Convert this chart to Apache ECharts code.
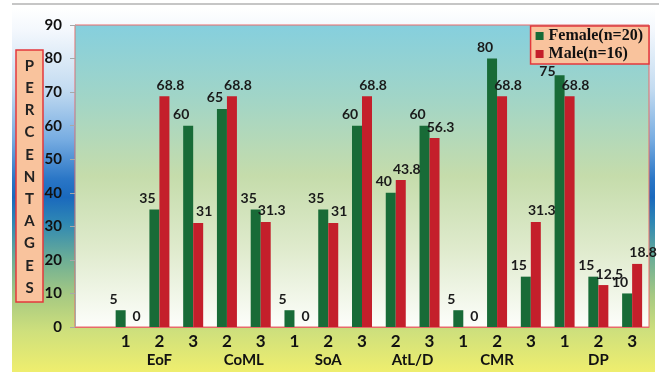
<!DOCTYPE html>
<html>
<head>
<meta charset="utf-8">
<script src="https://cdn.jsdelivr.net/npm/echarts@6/dist/echarts.min.js"></script>
<style>
  html, body { margin: 0; padding: 0; background: #fff; }
  .wrap { position: relative; width: 659px; height: 379px; overflow: hidden; }
  .topline { position: absolute; left: 12px; right: 0; top: 3px; height: 2px; background: #c6c6c6; }
  .frame {
    position: absolute; left: 12px; top: 8px; width: 643px; height: 364px;
    background: linear-gradient(to bottom,
      #ffffff 0%, #f4f8fd 6%, #c4dcf1 22%, #78ade2 36%, #2a76c6 47%, #1a69bd 52%,
      #2f88b4 59%, #6cae96 69%, #a6c982 79%, #cfe07c 89%, #efee6e 100%);
  }
  #chart { position: absolute; left: 0; top: 0; width: 659px; height: 379px; }
</style>
</head>
<body>
<div class="wrap">
  <div class="topline"></div>
  <div class="frame"></div>
  <div id="chart"></div>
</div>
<script>
// 各维度下的选项编号（第一个为空位）
const itemLabels = ['', '1', '2', '3', '2', '3', '1', '2', '3', '2', '3', '1', '2', '3', '1', '2', '3']
// 分组名称，放在第二行（半格刻度）
const groupLabels = ['', '', '', '', '', 'EoF', '', '', '', '', 'CoML', '', '', '', '', 'SoA', '', '', '', '',
  'AtL/D', '', '', '', '', 'CMR', '', '', '', '', '', 'DP', '', '', '']
const femaleValues = ['-', 5, 35, 60, 65, 35, 5, 35, 60, 40, 60, 5, 80, 15, 75, 15, 10]
const maleValues = ['-', 0, 68.8, 31, 68.8, 31.3, 0, 31, 68.8, 43.8, 56.3, 0, 68.8, 31.3, 68.8, 12.5, 18.8]
const seriesNames = ['Female(n=20)', 'Male(n=16)']
const yTitle = 'PERCENTAGES'

const chart = echarts.init(document.getElementById('chart'))

const labelStyle = {
  show: true,
  position: 'top',
  distance: 4,
  fontFamily: 'Lato',
  fontWeight: 'bold',
  fontSize: 14,
  color: '#1a1a1a'
}

const option = {
  animation: false,
  backgroundColor: 'transparent',
  grid: {
    left: 75,
    right: 10,
    top: 25,
    bottom: 52,
    show: true,
    borderColor: '#e86a6a',
    borderWidth: 1,
    backgroundColor: new echarts.graphic.LinearGradient(0, 0, 0, 1, [
      { offset: 0, color: '#85cfde' },
      { offset: 0.25, color: '#a2d5c6' },
      { offset: 0.5, color: '#c5dcab' },
      { offset: 0.75, color: '#e0ebce' },
      { offset: 1, color: '#fdfefb' }
    ])
  },
  legend: {
    orient: 'vertical',
    right: 10,
    top: 26,
    backgroundColor: '#f9c39d',
    borderColor: '#e3383c',
    borderWidth: 1.5,
    padding: [2, 6, 2, 5],
    itemGap: 2,
    itemWidth: 8,
    itemHeight: 8,
    icon: 'rect',
    textStyle: {
      fontFamily: 'Liberation Serif',
      fontWeight: 'bold',
      fontSize: 16,
      color: '#111'
    },
    data: seriesNames
  },
  xAxis: [
    {
      type: 'category',
      data: itemLabels,
      axisLine: { show: true, lineStyle: { color: '#e86a6a' } },
      axisTick: { show: false },
      axisLabel: {
        interval: 0,
        margin: 6,
        fontFamily: 'Lato',
        fontWeight: 'bold',
        fontSize: 17,
        color: '#111'
      }
    },
    {
      type: 'category',
      position: 'bottom',
      offset: 20,
      boundaryGap: false,
      data: groupLabels,
      axisLine: { show: false },
      axisTick: { show: false },
      axisLabel: {
        interval: 0,
        margin: 6,
        fontFamily: 'Lato',
        fontWeight: 'bold',
        fontSize: 15,
        color: '#111'
      }
    }
  ],
  yAxis: {
    type: 'value',
    min: 0,
    max: 90,
    interval: 10,
    axisLine: { show: true, lineStyle: { color: '#a8a8a8' } },
    axisTick: { show: true, length: 5, lineStyle: { color: '#a8a8a8' } },
    splitLine: { show: false },
    axisLabel: {
      margin: 13,
      fontFamily: 'Lato',
      fontWeight: 'bold',
      fontSize: 15,
      color: '#111'
    }
  },
  graphic: [
    {
      type: 'rect',
      shape: { x: 16, y: 50, width: 27, height: 252 },
      style: { fill: '#f9c39d', stroke: '#e3383c', lineWidth: 1.5 }
    },
    {
      type: 'text',
      x: 29.5,
      y: 177,
      style: {
        text: yTitle.split('').join('\n'),
        align: 'center',
        verticalAlign: 'middle',
        lineHeight: 22.2,
        font: 'bold 15px Lato',
        fill: '#222'
      }
    }
  ],
  // 女性标签偏左、男性标签偏右；与图例重叠的挪到柱子左侧
  labelLayout: function (params) {
    const r = params.labelRect
    if (params.seriesIndex === 0 && r.y < 66 && r.x + r.width > 530) {
      return { x: params.rect.x + 1, y: params.rect.y - 4, align: 'right', verticalAlign: 'middle' }
    }
    return { dx: params.seriesIndex === 0 ? -7 : 6 }
  },
  series: [
    {
      name: seriesNames[0],
      type: 'bar',
      data: femaleValues,
      barWidth: 10,
      barGap: '0%',
      itemStyle: { color: '#186b37' },
      label: labelStyle
    },
    {
      name: seriesNames[1],
      type: 'bar',
      data: maleValues,
      barWidth: 10,
      barGap: '0%',
      itemStyle: { color: '#c41f2b' },
      label: labelStyle
    }
  ]
}

chart.setOption(option)
</script>
</body>
</html>
